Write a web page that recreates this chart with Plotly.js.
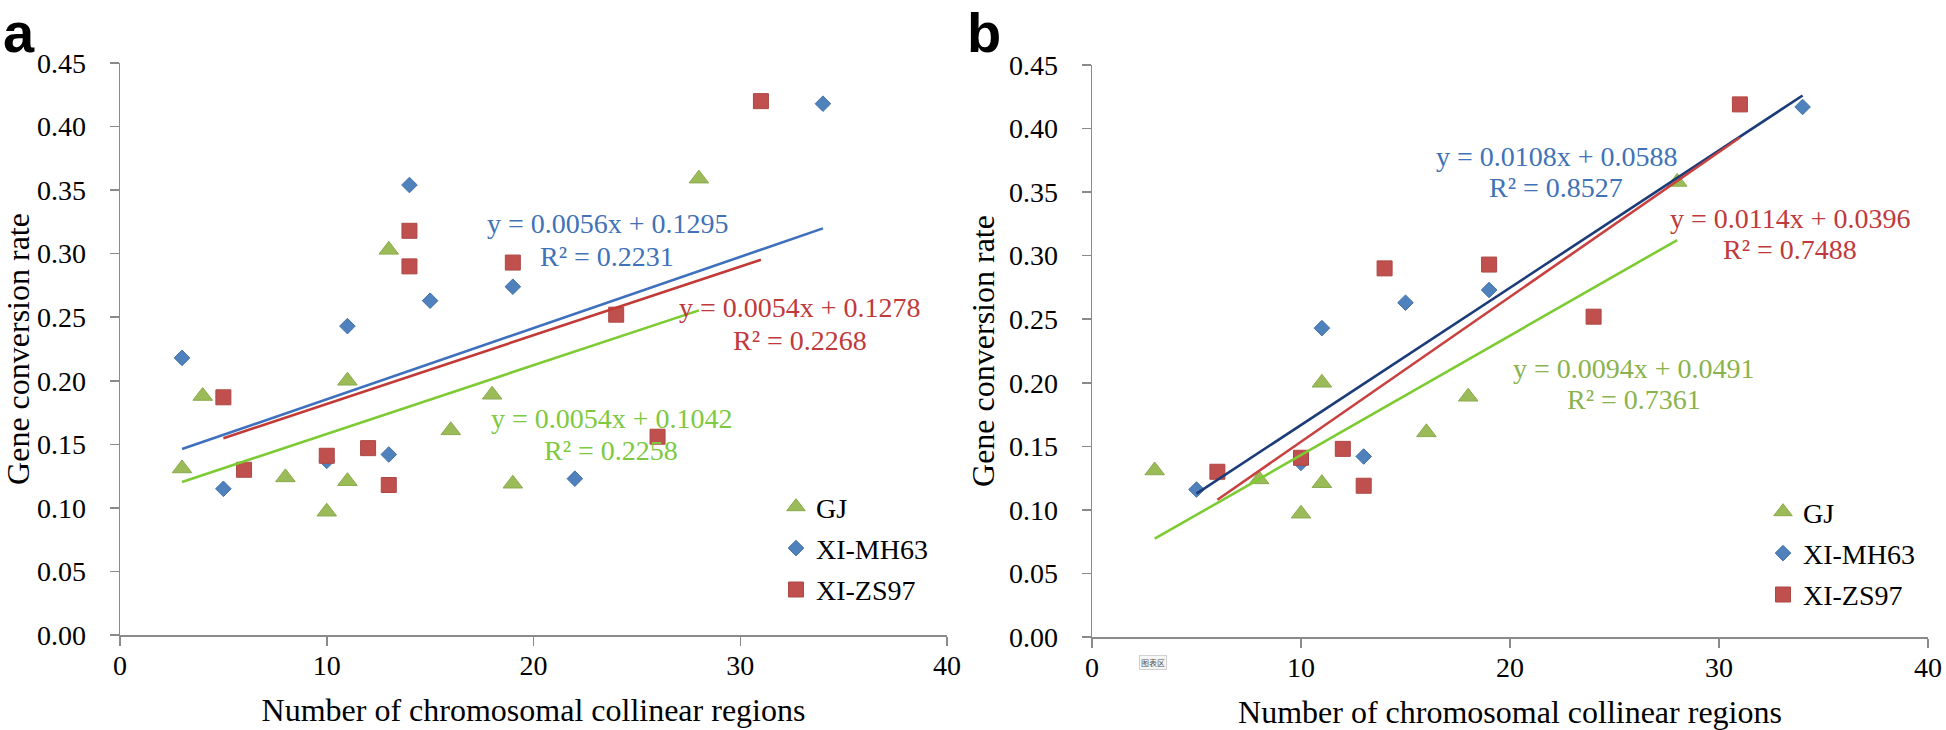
<!DOCTYPE html>
<html>
<head>
<meta charset="utf-8">
<script src="https://cdn.plot.ly/plotly-3.0.1.min.js"></script>
<style>
  html, body { margin: 0; padding: 0; background: #ffffff; }
  #chart { width: 1946px; height: 730px; }
</style>
</head>
<body>
<div id="chart"></div>
<script>
// ---------- Data ----------
const seriesNames = ["GJ", "XI-MH63", "XI-ZS97"];

// Panel a: all collinear regions
const a_GJ_x   = [3, 4, 8, 10, 11, 11, 13, 16, 18, 19, 28];
const a_GJ_y   = [0.131, 0.188, 0.124, 0.097, 0.121, 0.200, 0.303, 0.161, 0.189, 0.119, 0.359];
const a_MH63_x = [3, 5, 10, 11, 13, 14, 15, 19, 22, 34];
const a_MH63_y = [0.218, 0.115, 0.137, 0.243, 0.142, 0.354, 0.263, 0.274, 0.123, 0.418];
const a_ZS97_x = [5, 6, 10, 12, 13, 14, 14, 19, 24, 26, 31];
const a_ZS97_y = [0.187, 0.130, 0.141, 0.147, 0.118, 0.318, 0.290, 0.293, 0.252, 0.156, 0.420];

// Panel b: subset
const b_GJ_x   = [3, 8, 10, 11, 11, 16, 18, 28];
const b_GJ_y   = [0.131, 0.124, 0.097, 0.121, 0.200, 0.161, 0.189, 0.358];
const b_MH63_x = [5, 10, 11, 13, 15, 19, 34];
const b_MH63_y = [0.116, 0.137, 0.243, 0.142, 0.263, 0.273, 0.417];
const b_ZS97_x = [6, 10, 12, 13, 14, 19, 24, 31];
const b_ZS97_y = [0.130, 0.141, 0.148, 0.119, 0.290, 0.293, 0.252, 0.419];

// Linear trend equations as printed (order: GJ, XI-MH63, XI-ZS97)
const a_slopes     = [0.0054, 0.0056, 0.0054];
const a_intercepts = [0.1042, 0.1295, 0.1278];
const a_r2         = [0.2258, 0.2231, 0.2268];
const b_slopes     = [0.0094, 0.0108, 0.0114];
const b_intercepts = [0.0491, 0.0588, 0.0396];
const b_r2         = [0.7361, 0.8527, 0.7488];

const xTickVals = [0, 10, 20, 30, 40];
const xTitle = "Number of chromosomal collinear regions";
const yTitle = "Gene conversion rate";

// ---------- Styles ----------
const SERIF = "Liberation Serif, Times New Roman, serif";
const markerStyle = [
  {symbol: "triangle-up", size: 17, color: "#9BBB59", line: {color: "#8AAA4C", width: 1}},
  {symbol: "diamond", size: 12, color: "#4F81BD", line: {color: "#4572A8", width: 1}},
  {symbol: "square", size: 15, color: "#C0504D", line: {color: "#AD4744", width: 1}}
];
const lineColorsA = ["#7DCB32", "#3E70BE", "#C23A37"];
const lineColorsB = ["#7DCB32", "#1B3C78", "#C8413F"];
const textColorsA = ["#7DC940", "#3F72B8", "#C0393B"];
const textColorsB = ["#8BB34D", "#3F72B8", "#C0393B"];

const traces = [];
function addPanel(xs, ys, slopes, intercepts, lineColors, xa, ya, legendId) {
  xs.forEach((x, i) => {
    traces.push({
      type: "scatter", mode: "markers", x: x, y: ys[i],
      name: seriesNames[i], xaxis: xa, yaxis: ya, legend: legendId,
      legendgroup: legendId + i,
      marker: markerStyle[i], hoverinfo: "skip", cliponaxis: false
    });
  });
  xs.forEach((x, i) => {
    const x0 = Math.min(...x), x1 = Math.max(...x);
    traces.push({
      type: "scatter", mode: "lines",
      x: [x0, x1], y: [slopes[i] * x0 + intercepts[i], slopes[i] * x1 + intercepts[i]],
      xaxis: xa, yaxis: ya, showlegend: false, hoverinfo: "skip",
      line: {color: lineColors[i], width: 2.6}
    });
  });
}
addPanel([a_GJ_x, a_MH63_x, a_ZS97_x], [a_GJ_y, a_MH63_y, a_ZS97_y], a_slopes, a_intercepts, lineColorsA, "x", "y", "legend");
addPanel([b_GJ_x, b_MH63_x, b_ZS97_x], [b_GJ_y, b_MH63_y, b_ZS97_y], b_slopes, b_intercepts, lineColorsB, "x2", "y2", "legend2");

// ---------- Annotation positions (layout only) ----------
function eqText(s, b) { return "y = " + s.toFixed(4) + "x + " + b.toFixed(4); }
function r2Text(r) { return "R² = " + r.toFixed(4); }

const eqPosA = [
  [23.8, 0.170, 23.75, 0.145],
  [23.6, 0.324, 23.55, 0.2974],
  [32.9, 0.2573, 32.9, 0.232]
];
const eqPosB = [
  [25.93, 0.2116, 25.93, 0.1872],
  [22.25, 0.378, 22.2, 0.354],
  [33.4, 0.3296, 33.4, 0.3045]
];

const annotations = [];
function addEq(pos, slopes, intercepts, r2, colors, xr, yr) {
  pos.forEach((p, i) => {
    annotations.push({xref: xr, yref: yr, x: p[0], y: p[1], text: eqText(slopes[i], intercepts[i]),
      showarrow: false, xanchor: "center", yanchor: "middle",
      font: {family: SERIF, size: 28, color: colors[i]}});
    annotations.push({xref: xr, yref: yr, x: p[2], y: p[3], text: r2Text(r2[i]),
      showarrow: false, xanchor: "center", yanchor: "middle",
      font: {family: SERIF, size: 28, color: colors[i]}});
  });
}
addEq(eqPosA, a_slopes, a_intercepts, a_r2, textColorsA, "x", "y");
addEq(eqPosB, b_slopes, b_intercepts, b_r2, textColorsB, "x2", "y2");

// Panel letters
annotations.push({xref: "paper", yref: "paper", x: 2 / 1946, y: 1, text: "<b>a</b>",
  showarrow: false, xanchor: "left", yanchor: "top", borderpad: 0,
  font: {family: "Liberation Sans, Arial, sans-serif", size: 56, color: "#000"}});
annotations.push({xref: "paper", yref: "paper", x: 966 / 1946, y: 1, text: "<b>b</b>",
  showarrow: false, xanchor: "left", yanchor: "top", borderpad: 0,
  font: {family: "Liberation Sans, Arial, sans-serif", size: 56, color: "#000"}});

// small Excel tooltip "图表区"
annotations.push({xref: "paper", yref: "paper", x: 1153 / 1946, y: 1 - 662 / 730, text: "图表区",
  showarrow: false, xanchor: "center", yanchor: "middle",
  font: {family: "Noto Sans CJK SC, sans-serif", size: 8, color: "#555"},
  bgcolor: "#f6f6f6", bordercolor: "#d0d0d0", borderwidth: 1, borderpad: 1});

function xaxisDef(domain, anchor) {
  return {
    domain: domain, anchor: anchor, range: [0, 40], tickvals: xTickVals,
    showgrid: false, zeroline: false, showline: true, linecolor: "#8a8a8a", linewidth: 1.5,
    ticks: "outside", ticklen: 9, tickwidth: 1.5, tickcolor: "#8a8a8a",
    ticklabelstandoff: -4,
    tickfont: {family: SERIF, size: 28, color: "#000"},
    title: {text: xTitle, font: {family: SERIF, size: 32, color: "#000"}, standoff: 18},
    automargin: false
  };
}
function yaxisDef(domain, anchor) {
  return {
    domain: domain, anchor: anchor, range: [0, 0.45], dtick: 0.05, tickformat: ".2f",
    showgrid: false, zeroline: false, showline: true, linecolor: "#8a8a8a", linewidth: 1.5,
    ticks: "outside", ticklen: 9, tickwidth: 1.5, tickcolor: "#8a8a8a",
    ticklabelstandoff: 18,
    tickfont: {family: SERIF, size: 28, color: "#000"},
    title: {text: yTitle, font: {family: SERIF, size: 32, color: "#000"}, standoff: 4},
    automargin: false
  };
}

const legendCommon = {
  font: {family: SERIF, size: 28, color: "#000"},
  bgcolor: "rgba(0,0,0,0)", borderwidth: 0,
  xanchor: "left", yanchor: "top", tracegroupgap: 2, itemwidth: 30
};

const layout = {
  width: 1946, height: 730,
  margin: {l: 0, r: 0, t: 0, b: 0},
  paper_bgcolor: "#ffffff", plot_bgcolor: "#ffffff",
  showlegend: true,
  xaxis: xaxisDef([120 / 1946, 947 / 1946], "y"),
  yaxis: yaxisDef([(730 - 635) / 730, (730 - 63) / 730], "x"),
  xaxis2: xaxisDef([1092 / 1946, 1928 / 1946], "y2"),
  yaxis2: yaxisDef([(730 - 637) / 730, (730 - 65) / 730], "x2"),
  legend: Object.assign({x: 776 / 1946, y: 1 - 482 / 730}, legendCommon),
  legend2: Object.assign({x: 1763 / 1946, y: 1 - 487 / 730}, legendCommon),
  annotations: annotations
};

Plotly.newPlot("chart", traces, layout, {staticPlot: true, displayModeBar: false});
</script>
</body>
</html>
